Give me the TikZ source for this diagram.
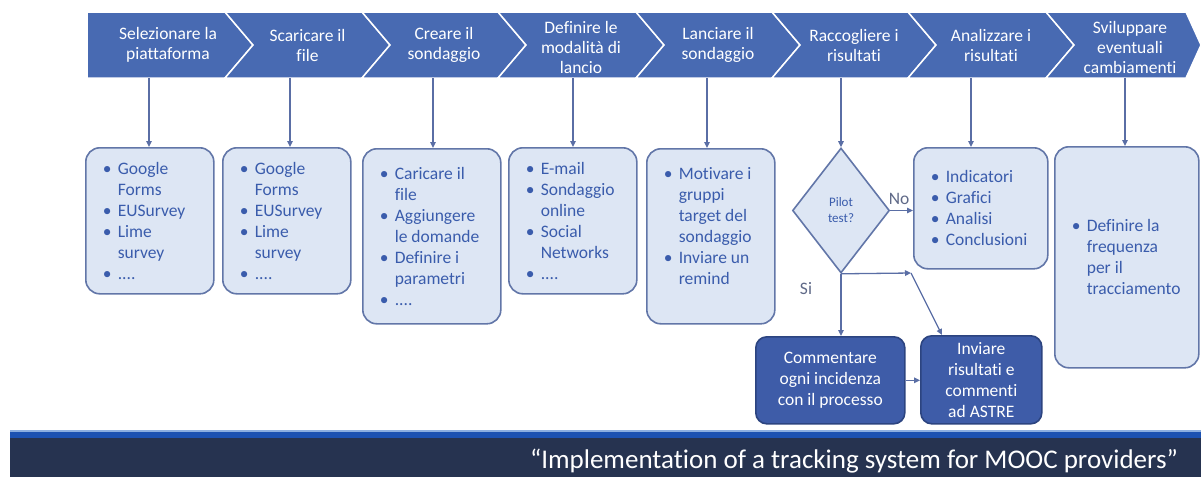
\documentclass[tikz,border=0pt]{standalone}
\usepackage{fontspec}
\setmainfont{Carlito}[Ligatures=NoCommon]
\usetikzlibrary{shapes.geometric,arrows.meta,calc}
\definecolor{chev}{RGB}{72,106,178}
\definecolor{boxfill}{RGB}{221,230,244}
\definecolor{boxline}{RGB}{98,118,168}
\definecolor{boxtext}{RGB}{58,92,172}
\definecolor{darkfill}{RGB}{62,92,168}
\definecolor{darkline}{RGB}{44,68,128}
\definecolor{arrcol}{RGB}{90,110,165}
\definecolor{navy}{RGB}{38,51,80}
\definecolor{stripe}{RGB}{28,82,178}
\definecolor{stripelight}{RGB}{140,175,225}
\definecolor{lbl}{RGB}{95,105,135}
\newcommand\bul{\makebox[15pt][l]{•}}
\newcommand\ind{\hspace*{15pt}}
\tikzset{
  chevshape/.style={fill=chev, draw=white, line width=1.5pt, line join=miter},
  chevtext/.style={text=white, font=\fontsize{17.5}{20}\selectfont, align=flush center, inner sep=0pt},
  listbox/.style={draw=boxline, line width=1.6pt, fill=boxfill, rounded corners=14pt,
    text=boxtext, font=\fontsize{17.5}{21}\selectfont, align=flush left,
    inner xsep=17pt, inner ysep=0pt, anchor=north west},
  darkbox/.style={draw=darkline, line width=1.6pt, fill=darkfill, rounded corners=11pt,
    text=white, font=\fontsize{17.5}{21}\selectfont, align=flush center, inner sep=0pt, anchor=north west},
  diam/.style={diamond, draw=boxline, line width=1.6pt, fill=boxfill, inner sep=0pt,
    minimum width=97pt, minimum height=125pt, text=boxtext,
    font=\fontsize{13}{16}\selectfont, align=flush center},
  lbltext/.style={text=lbl, font=\fontsize{17.5}{20}\selectfont, inner sep=0pt},
  arr/.style={draw=arrcol, line width=1.3pt, -{Triangle[length=6pt,width=5.5pt]}},
}
\begin{document}
\begin{tikzpicture}[x=1pt,y=-1pt]
\useasboundingbox (0,0) rectangle (1201,477);
% chevrons
\path[chevshape] (87,12) -- (225,12) -- (253,45) -- (225,78) -- (87,78) -- cycle;
\path[chevshape] (225,12) -- (362,12) -- (390,45) -- (362,78) -- (225,78) -- (253,45) -- cycle;
\path[chevshape] (362,12) -- (498,12) -- (526,45) -- (498,78) -- (362,78) -- (390,45) -- cycle;
\path[chevshape] (498,12) -- (636,12) -- (664,45) -- (636,78) -- (498,78) -- (526,45) -- cycle;
\path[chevshape] (636,12) -- (772,12) -- (800,45) -- (772,78) -- (636,78) -- (664,45) -- cycle;
\path[chevshape] (772,12) -- (908,12) -- (936,45) -- (908,78) -- (772,78) -- (800,45) -- cycle;
\path[chevshape] (908,12) -- (1046,12) -- (1074,45) -- (1046,78) -- (908,78) -- (936,45) -- cycle;
\path[chevshape] (1046,12) -- (1186,12) -- (1201,45) -- (1186,78) -- (1046,78) -- (1074,45) -- cycle;
\node[chevtext] (c1) at (168,45) {Selezionare la\\piattaforma};
\node[chevtext] (c2) at (307.5,45) {Scaricare il\\file};
\node[chevtext] (c3) at (444,45) {Creare il\\sondaggio};
\node[chevtext] (c4) at (581,47) {Definire le\\modalità di\\lancio};
\node[chevtext] (c5) at (718,45) {Lanciare il\\sondaggio};
\node[chevtext] (c6) at (854,45) {Raccogliere i\\risultati};
\node[chevtext] (c7) at (991,45) {Analizzare i\\risultati};
\node[chevtext] (c8) at (1130,47) {Sviluppare\\eventuali\\cambiamenti};
% arrow start points
\coordinate (a1) at (149,78);
\coordinate (a2) at (290,78);
\coordinate (a3) at (433,78);
\coordinate (a4) at (573,78);
\coordinate (a5) at (707,78);
\coordinate (a6) at (841,78);
\coordinate (a7) at (971,78);
\coordinate (a8) at (1125,78);
% list boxes
\node[listbox, minimum width=128pt, text width=94pt, minimum height=146pt] (b1) at (85,147)
  {\bul Google\\\ind Forms\\\bul EUSurvey\\\bul Lime\\\ind survey\\\bul ....};
\node[listbox, minimum width=128pt, text width=94pt, minimum height=146pt] (b2) at (222,147)
  {\bul Google\\\ind Forms\\\bul EUSurvey\\\bul Lime\\\ind survey\\\bul ....};
\node[listbox, minimum width=138pt, text width=104pt, minimum height=175pt] (b3) at (362,148)
  {\bul Caricare il\\\ind file\\\bul Aggiungere\\\ind le domande\\\bul Definire i\\\ind parametri\\\bul ....};
\node[listbox, minimum width=128pt, text width=94pt, minimum height=146pt] (b4) at (508,147)
  {\bul E-mail\\\bul Sondaggio\\\ind online\\\bul Social\\\ind Networks\\\bul ....};
\node[listbox, minimum width=128pt, text width=94pt, minimum height=175pt] (b5) at (646,148)
  {\bul Motivare i\\\ind gruppi\\\ind target del\\\ind sondaggio\\\bul Inviare un\\\ind remind\\\mbox{}};
\node[listbox, minimum width=134pt, text width=100pt, minimum height=121pt] (b7) at (913,147)
  {\bul Indicatori\\\bul Grafici\\\bul Analisi\\\bul Conclusioni};
\node[listbox, minimum width=144pt, text width=110pt, minimum height=221pt] (b8) at (1054,146)
  {\bul Definire la\\\ind frequenza\\\ind per il\\\ind \mbox{tracciamento}};
% decision
\node[diam] (d) at (841,210.5) {Pilot\\test?};
% dark boxes
\node[darkbox, minimum width=149pt, minimum height=87pt] (k1) at (755,336)
  {Commentare\\ogni incidenza\\con il processo};
\node[darkbox, minimum width=121pt, minimum height=88pt] (k2) at (920,335)
  {Inviare\\risultati e\\commenti\\ad ASTRE};
% labels
\node[lbltext] (no) at (899,199) {No};
\node[lbltext] (si) at (806,289) {Si};
% connectors
\draw[arr] (a1) -- (a1 |- b1.north);
\draw[arr] (a2) -- (a2 |- b2.north);
\draw[arr] (a3) -- (a3 |- b3.north);
\draw[arr] (a4) -- (a4 |- b4.north);
\draw[arr] (a5) -- (a5 |- b5.north);
\draw[arr] (a6) -- (d.north);
\draw[arr] (a7) -- (a7 |- b7.north);
\draw[arr] (a8) -- (a8 |- b8.north);
\draw[arr] (d.east) -- (d.east -| b7.west);
\draw[arr] (d.south) -- (d.south |- k1.north);
\coordinate (m) at (911,273);
\draw[arr] (d.south) -- (m);
\draw[arr] (m) -- ([xshift=22pt]k2.north west);
\draw[arr] (k1.east) -- (k1.east -| k2.west);
% banner
\fill[navy] (10,437) rectangle (1201,477);
\fill[stripe] (10,431) rectangle (1201,438);
\fill[stripelight] (10,429.5) rectangle (1201,431.5);
\node[text=white, font=\fontsize{27}{30}\selectfont, inner sep=0pt] (title) at (854,461)
  {“Implementation of a tracking system for MOOC providers”};
\end{tikzpicture}
\end{document}
